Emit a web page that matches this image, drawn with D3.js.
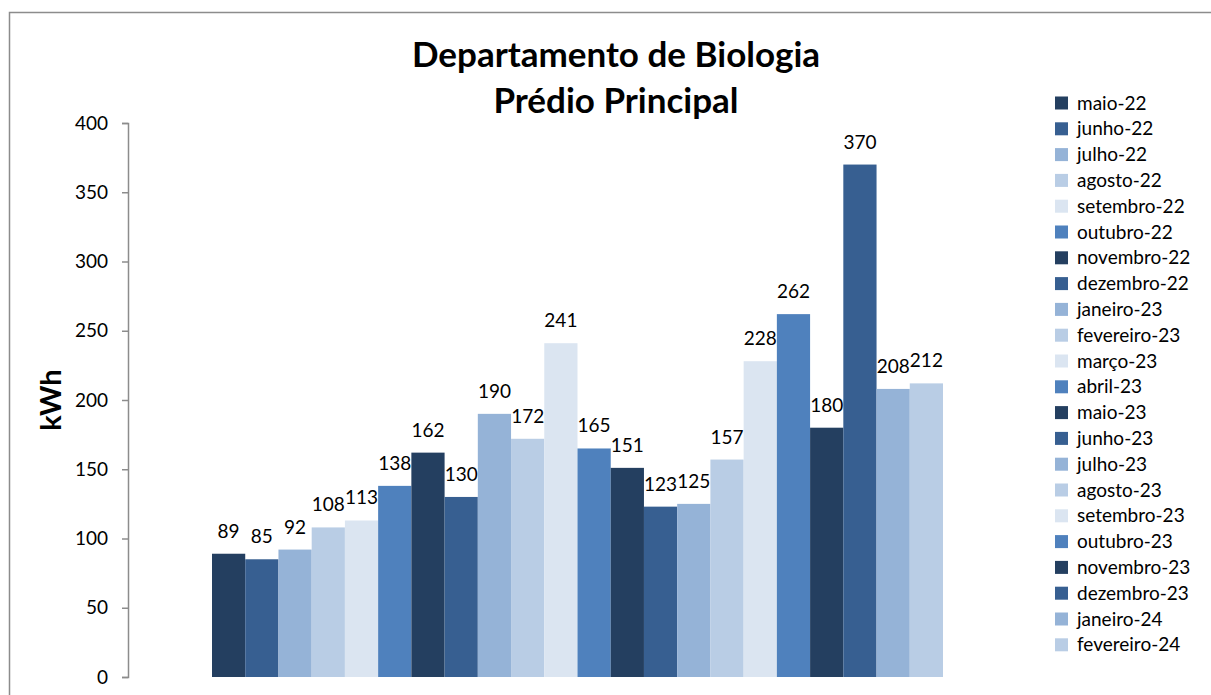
<!DOCTYPE html>
<html>
<head>
<meta charset="utf-8">
<script src="https://cdn.jsdelivr.net/npm/d3@7"></script>
<style>
  body { margin: 0; background: #fff; }
  svg { font-family: "Lato", "Open Sans", sans-serif; }
</style>
</head>
<body>
<div id="chart"></div>
<script>
var months = ["maio-22","junho-22","julho-22","agosto-22","setembro-22","outubro-22",
  "novembro-22","dezembro-22","janeiro-23","fevereiro-23","março-23","abril-23",
  "maio-23","junho-23","julho-23","agosto-23","setembro-23","outubro-23",
  "novembro-23","dezembro-23","janeiro-24","fevereiro-24"]
var kwh = [89,85,92,108,113,138,162,130,190,172,241,165,151,123,125,157,228,262,180,370,208,212]
var palette = ["#243F60","#375F91","#95B3D7","#B9CDE5","#DBE5F1","#4F81BD"]
var yTicks = [0,50,100,150,200,250,300,350,400]

var width = 1211, height = 695
var svg = d3.select("#chart").append("svg")
    .attr("width", width)
    .attr("height", height)

// outer frame
svg.append("rect")
    .attr("x", 9.5).attr("y", 12.5)
    .attr("width", 1230).attr("height", 720)
    .attr("fill", "none")
    .attr("stroke", "#8c8c8c")
    .attr("stroke-width", 1.5)

var y = d3.scaleLinear().domain([0, 400]).range([677, 123])
var x = d3.scaleBand().domain(months).range([212, 943]).padding(0)

var color = d3.scaleOrdinal().domain(months)
    .range(months.map(function(d, i){ return palette[i % palette.length] }))

// y axis
var yAxis = svg.append("g")
    .attr("transform", "translate(128,0)")
    .call(d3.axisLeft(y).tickValues(yTicks).tickSize(6).tickPadding(14))
yAxis.select(".domain").attr("stroke", "#8c8c8c").attr("stroke-width", 1.5)
yAxis.selectAll(".tick line").attr("stroke", "#8c8c8c").attr("stroke-width", 1.5)
yAxis.selectAll(".tick text")
    .attr("font-size", 19)
    .attr("fill", "#000")
    .style("font-family", "Lato, 'Open Sans', sans-serif")

// bars
svg.selectAll(".bar").data(months).enter().append("rect")
    .attr("class", "bar")
    .attr("x", function(d){ return x(d) })
    .attr("width", x.bandwidth())
    .attr("y", function(d, i){ return y(kwh[i]) })
    .attr("height", function(d, i){ return y(0) - y(kwh[i]) })
    .attr("fill", function(d){ return color(d) })

// value labels
svg.selectAll(".val").data(months).enter().append("text")
    .attr("class", "val")
    .attr("x", function(d){ return x(d) + x.bandwidth()/2 })
    .attr("y", function(d, i){ return y(kwh[i]) - 16 })
    .attr("text-anchor", "middle")
    .attr("font-size", 19)
    .text(function(d, i){ return kwh[i] })

// title
var title = svg.append("text")
    .attr("text-anchor", "middle")
    .attr("font-size", 35)
    .attr("font-weight", "bold")
title.append("tspan").attr("x", 616).attr("y", 67).text("Departamento de Biologia")
title.append("tspan").attr("x", 616).attr("y", 113).text("Prédio Principal")

// y label
svg.append("text")
    .attr("transform", "translate(61,400) rotate(-90)")
    .attr("text-anchor", "middle")
    .attr("font-size", 29)
    .attr("font-weight", "bold")
    .text("kWh")

// legend
var legend = svg.selectAll(".leg").data(months).enter().append("g")
    .attr("class", "leg")
    .attr("transform", function(d, i){ return "translate(1055," + (103 + i*25.8) + ")" })
legend.append("rect")
    .attr("x", 0).attr("y", -6.5)
    .attr("width", 13).attr("height", 13)
    .attr("fill", function(d){ return color(d) })
legend.append("text")
    .attr("x", 22).attr("y", 6.5)
    .attr("font-size", 19)
    .text(function(d){ return d })
</script>
</body>
</html>
